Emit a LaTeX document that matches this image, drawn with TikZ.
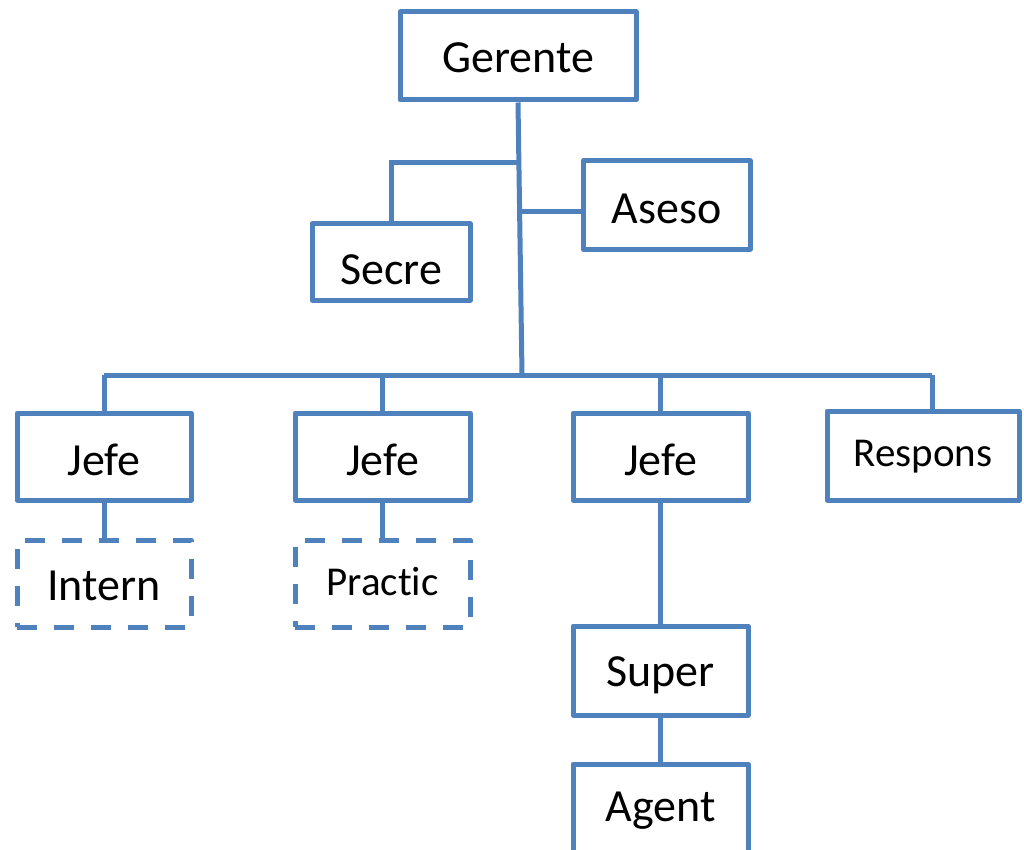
\documentclass[tikz,border=0pt]{standalone}
\usepackage{fontspec}
\setmainfont{Carlito}[Ligatures={NoCommon}]
\definecolor{boxblue}{HTML}{4F81BD}
\begin{document}
\begin{tikzpicture}[x=1pt,y=-1pt,
  box/.style={draw=boxblue,line width=5pt,fill=white,rectangle,inner sep=0pt,
    line join=round},
  dbox/.style={box,dashed,dash pattern=on 20pt off 17pt},
  big/.style={font=\fontsize{46}{50}\selectfont},
  small/.style={font=\fontsize{41}{45}\selectfont},
  link/.style={draw=boxblue,line width=5pt}]
\clip (0,0) rectangle (1024,850);
\useasboundingbox (0,0) rectangle (1024,850);
\coordinate (bus) at (522,375);
\coordinate (secJ) at (518,163);
\coordinate (aseJ) at (520,212);
\coordinate (busL) at (104,375);
\coordinate (busR) at (932,375);
\coordinate (b2) at (382.5,375);
\coordinate (b3) at (660.5,375);
% nodes
\node[box,minimum width=236pt,minimum height=88pt] (ger) at (518,56) {};
\node[big] (gertext) at (518,58) {Gerente};
\node[box,minimum width=167pt,minimum height=88pt] (ase) at (666.5,205) {};
\node[big] (asetext) at (666.5,209) {Aseso};
\node[box,minimum width=158pt,minimum height=76pt] (sec) at (391,262) {};
\node[big] (sectext) at (391,270) {Secre};
\node[box,minimum width=174pt,minimum height=87pt] (j1) at (104,456.5) {};
\node[big] (j1text) at (104,460) {Jefe};
\node[box,minimum width=175pt,minimum height=87pt] (j2) at (382.5,456.5) {};
\node[big] (j2text) at (382.5,460) {Jefe};
\node[box,minimum width=175pt,minimum height=87pt] (j3) at (660.5,456.5) {};
\node[big] (j3text) at (660.5,460) {Jefe};
\node[box,minimum width=192pt,minimum height=89pt] (res) at (923,455.5) {};
\node[small] (restext) at (923,457) {Respons};
\node[dbox,minimum width=174pt,minimum height=87pt] (int) at (104,583.5) {};
\node[big] (inttext) at (104,586) {Intern};
\node[dbox,minimum width=175pt,minimum height=87pt] (pra) at (382.5,583.5) {};
\node[small] (pratext) at (382.5,582) {Practic};
\node[box,minimum width=175pt,minimum height=89pt] (sup) at (660.5,670.5) {};
\node[big] (suptext) at (660.5,675) {Super};
\node[box,minimum width=175pt,minimum height=88pt] (age) at (660.5,808) {};
\node[big] (agetext) at (660.5,811) {Agent};
% connectors
\draw[link] (ger.south) -- (bus);
\draw[link] (secJ) -| (sec.north);
\draw[link] (aseJ) -- (aseJ -| ase.west);
\draw[link] (busL) -- (busR);
\draw[link] (busL) -- (j1.north);
\draw[link] (b2) -- (j2.north);
\draw[link] (b3) -- (j3.north);
\draw[link] (busR) -- (res.north -| busR);
\draw[link] (j1.south) -- (int.north);
\draw[link] (j2.south) -- (pra.north);
\draw[link] (j3.south) -- (sup.north);
\draw[link] (sup.south) -- (age.north);
\end{tikzpicture}
\end{document}
